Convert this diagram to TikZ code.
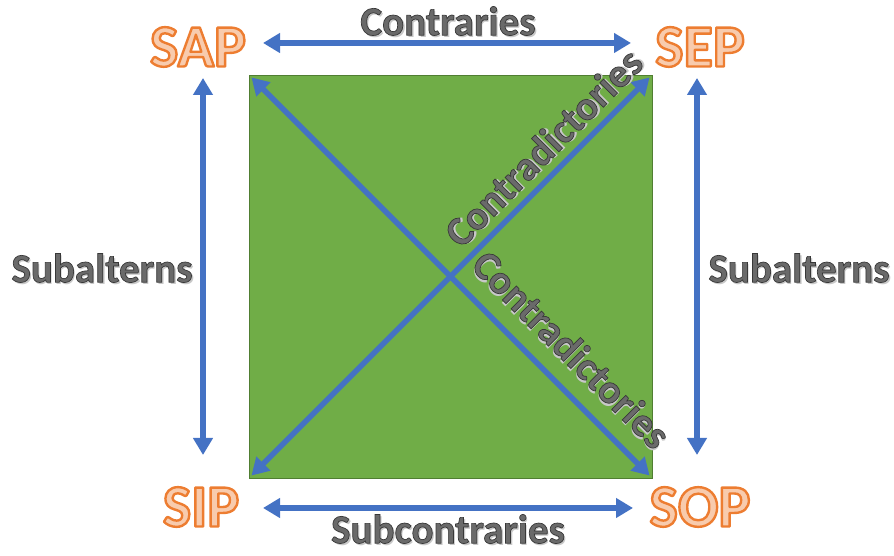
\documentclass[tikz,border=0pt]{standalone}
\usepackage{fontspec}
\setmainfont{Carlito}
\usetikzlibrary{arrows.meta,calc}
\definecolor{arrblue}{HTML}{4472C4}
\definecolor{sqgreen}{HTML}{70AD47}
\definecolor{sqedge}{HTML}{507E32}
\definecolor{cornerfill}{HTML}{F8CBAD}
\definecolor{lblgray}{HTML}{6A6A6A}
\definecolor{lblshadow}{HTML}{C8C8C8}
% outlined text via PDF text render mode (fill + stroke)
\newcommand\corner[1]{{\color{cornerfill}\special{pdf:literal direct 2 Tr 2.4 w 1 j 0.929 0.490 0.192 RG}#1\special{pdf:literal direct 0 Tr}}}
\newcommand\graytext[1]{{\color{lblgray}\special{pdf:literal direct 2 Tr 0.7 w 0.22 0.22 0.22 RG}#1\special{pdf:literal direct 0 Tr}}}
\newcommand\shadowed[1]{\makebox[0pt][l]{\hspace{2pt}\raisebox{-2pt}{\textcolor{lblshadow}{#1}}}\graytext{#1}}
\tikzset{
  x=1pt,y=1pt,
  arr/.style={draw=arrblue,line width=5.5pt,
    {Triangle[length=17pt,width=19pt]}-{Triangle[length=17pt,width=19pt]}},
  cornerlbl/.style={inner sep=0pt,font=\fontsize{60}{60}\selectfont\bfseries},
  lbltext/.style={inner sep=0pt,font=\fontsize{41}{41}\selectfont\bfseries},
}
\begin{document}
\begin{tikzpicture}
\useasboundingbox (0,0) rectangle (894,556);
\node[draw=sqedge,line width=0.8pt,fill=sqgreen,minimum size=403pt,inner sep=0pt] (sq) at (450.5,279.5) {};
% corner labels
\node[cornerlbl] (SAP) at (198,509) {\corner{SAP}};
\node[cornerlbl] (SEP) at (700,509) {\corner{SEP}};
\node[cornerlbl] (SIP) at (201,49) {\corner{SIP}};
\node[cornerlbl] (SOP) at (700,49) {\corner{SOP}};
% diagonal arrows
\draw[arr,shorten <=4pt,shorten >=4pt] (sq.south west) -- (sq.north east);
\draw[arr,shorten <=4pt,shorten >=4pt] (sq.north west) -- (sq.south east);
% horizontal arrows
\coordinate (ct1) at (263,513);
\coordinate (ct2) at (631,513);
\coordinate (sc1) at (263,48);
\coordinate (sc2) at (633,48);
\draw[arr] (ct1) -- (ct2);
\draw[arr] (sc1) -- (sc2);
% vertical arrows
\coordinate (vl1) at (203,478);
\coordinate (vl2) at (203,101);
\coordinate (vr1) at (697,478);
\coordinate (vr2) at (697,101);
\draw[arr] (vl1) -- (vl2);
\draw[arr] (vr1) -- (vr2);
% labels
\node[lbltext] (contr) at (448,534) {\shadowed{Contraries}};
\node[lbltext] (subl) at (102,287) {\shadowed{Subalterns}};
\node[lbltext] (subr) at (799,287) {\shadowed{Subalterns}};
\node[lbltext] (subc) at (448,26) {\shadowed{Subcontraries}};
\node[lbltext,rotate=45] (cd1) at (544,408) {\shadowed{Contradictories}};
\node[lbltext,rotate=-45] (cd2) at (571,206) {\shadowed{Contradictories}};
\end{tikzpicture}
\end{document}
